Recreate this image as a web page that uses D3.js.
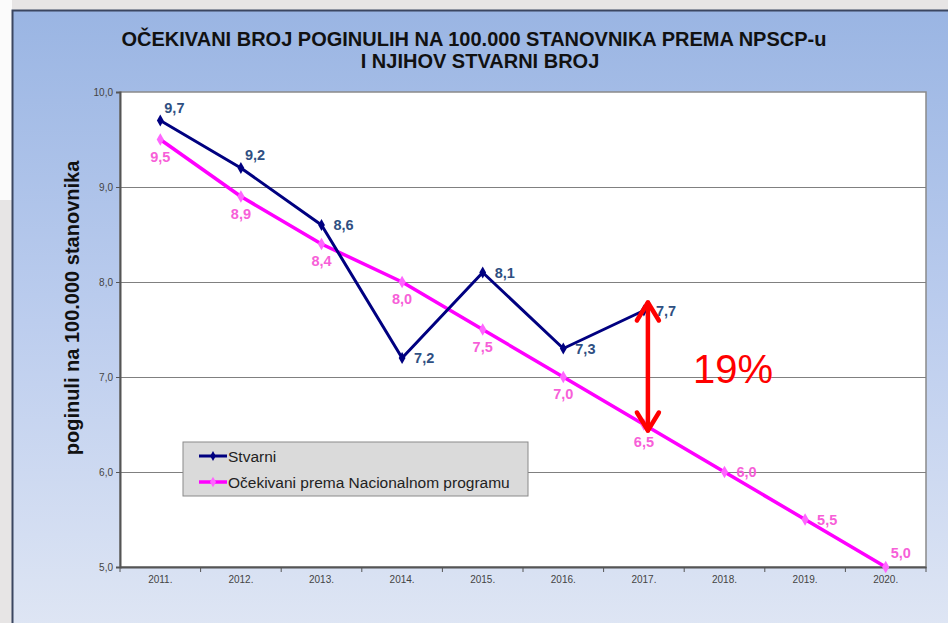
<!DOCTYPE html>
<html>
<head>
<meta charset="utf-8">
<script src="https://cdn.jsdelivr.net/npm/d3@7"></script>
<style>
  html, body { margin: 0; padding: 0; background: #e7e5e5; }
  svg { display: block; }
</style>
</head>
<body>
<svg id="chart" width="948" height="623"></svg>
<script>
// Expected vs actual road deaths per 100,000 inhabitants (NPSCP).

const years = ["2011.", "2012.", "2013.", "2014.", "2015.", "2016.", "2017.", "2018.", "2019.", "2020."];
const actual = [9.7, 9.2, 8.6, 7.2, 8.1, 7.3, 7.7];
const expected = [9.5, 8.9, 8.4, 8.0, 7.5, 7.0, 6.5, 6.0, 5.5, 5.0];
const actualLabelPos = ["above", "above", "right", "right", "right", "right", "right"];
const expectedLabelPos = ["below", "below", "below", "below", "below", "below", "below", "right", "right", "aboveRight"];
const yTicks = [5, 6, 7, 8, 9, 10];
const titleLines = ["OČEKIVANI BROJ POGINULIH NA 100.000 STANOVNIKA PREMA NPSCP-u", "I NJIHOV STVARNI BROJ"];
const yLabel = "poginuli na 100.000 stanovnika";
const seriesNames = ["Stvarni", "Očekivani prema Nacionalnom programu"];
const gapLabel = "19%";

const svg = d3.select("#chart");
const W = 948, H = 623;
const fmt = v => d3.format(".1f")(v).replace(".", ",");

// slide background + panel
const defs = svg.append("defs");
const grad = defs.append("linearGradient").attr("id", "panelGrad")
  .attr("x1", 0).attr("y1", 0).attr("x2", 0).attr("y2", 1);
grad.append("stop").attr("offset", "0%").attr("stop-color", "#9ab5e3");
grad.append("stop").attr("offset", "50%").attr("stop-color", "#bccdee");
grad.append("stop").attr("offset", "100%").attr("stop-color", "#dfe6f4");

svg.append("rect").attr("width", W).attr("height", H).attr("fill", "#e7e5e5");
svg.append("rect").attr("width", 12).attr("height", 200).attr("fill", "#fbfbfb");
svg.append("rect").attr("x", 12).attr("y", 10).attr("width", W).attr("height", H)
  .attr("fill", "url(#panelGrad)");
svg.append("path").attr("d", `M12.5,${H} V10.5 H${W}`)
  .attr("fill", "none").attr("stroke", "#3b4660").attr("stroke-width", 2);

// title
svg.append("text")
  .attr("x", 474).attr("y", 46)
  .attr("text-anchor", "middle")
  .attr("font-family", "Liberation Sans, Arial, sans-serif")
  .attr("font-weight", "bold").attr("font-size", 20).attr("fill", "#111")
  .selectAll("tspan").data(titleLines).join("tspan")
  .attr("x", (d, i) => i === 0 ? 474 : 480).attr("dy", (d, i) => i === 0 ? 0 : 22)
  .text(d => d);

// plot area
const plot = { left: 120, right: 926, top: 92, bottom: 567 };
const x = d3.scaleBand().domain(years).range([plot.left, plot.right]).padding(0);
const cx = d => x(d) + x.bandwidth() / 2;
const y = d3.scaleLinear().domain([5, 10]).range([plot.bottom, plot.top]);

svg.append("rect")
  .attr("x", plot.left).attr("y", plot.top)
  .attr("width", plot.right - plot.left).attr("height", plot.bottom - plot.top)
  .attr("fill", "#ffffff").attr("stroke", "#8a8a8a").attr("stroke-width", 1.5);

svg.append("g").selectAll("line").data(yTicks.filter(t => t > 5 && t < 10)).join("line")
  .attr("x1", plot.left).attr("x2", plot.right)
  .attr("y1", d => Math.round(y(d)) + 0.5).attr("y2", d => Math.round(y(d)) + 0.5)
  .attr("stroke", "#808080").attr("stroke-width", 1);

// axes
const yAxis = svg.append("g").attr("transform", `translate(${plot.left},0)`)
  .call(d3.axisLeft(y).tickValues(yTicks).tickSize(4).tickPadding(3).tickFormat(fmt));
const xAxis = svg.append("g").attr("transform", `translate(0,${plot.bottom})`)
  .call(d3.axisBottom(x).tickSize(0).tickPadding(9));
// ticks between categories
xAxis.selectAll(".between").data(d3.range(years.length + 1)).join("line")
  .attr("class", "between")
  .attr("x1", i => plot.left + i * x.bandwidth()).attr("x2", i => plot.left + i * x.bandwidth())
  .attr("y1", 0).attr("y2", 5)
  .attr("stroke", "#555");
[yAxis, xAxis].forEach(g => {
  g.selectAll(".domain").attr("stroke", "#555").attr("stroke-width", 2);
  g.selectAll(".tick line").attr("stroke", "#555");
  g.selectAll(".tick text").attr("fill", "#444").attr("font-size", 10)
    .attr("font-family", "Liberation Sans, Arial, sans-serif");
});

// y-axis title
svg.append("text")
  .attr("transform", `translate(79,308) rotate(-90)`)
  .attr("text-anchor", "middle")
  .attr("font-family", "Liberation Sans, Arial, sans-serif")
  .attr("font-weight", "bold").attr("font-size", 20).attr("fill", "#111")
  .text(yLabel);

// series
const series = [
  { name: seriesNames[1], values: expected, pos: expectedLabelPos, line: "#ff00ff", marker: "#ff66ff", label: "#f75fd8", width: 3.5, size: 45 },
  { name: seriesNames[0], values: actual, pos: actualLabelPos, line: "#000080", marker: "#000080", label: "#2f4f82", width: 3, size: 40 }
];

const line = d3.line().x((d, i) => cx(years[i])).y(d => y(d));

series.forEach(s => {
  svg.append("path").datum(s.values)
    .attr("fill", "none").attr("stroke", s.line).attr("stroke-width", s.width)
    .attr("stroke-linejoin", "round").attr("d", line);

  svg.append("g").selectAll("path").data(s.values).join("path")
    .attr("transform", (d, i) => `translate(${cx(years[i])},${y(d)})`)
    .attr("d", d3.symbol(d3.symbolDiamond, s.size))
    .attr("fill", s.marker);

  svg.append("g").selectAll("text").data(s.values).join("text")
    .attr("x", (d, i) => {
      const p = s.pos[i], px = cx(years[i]);
      if (p === "right") return px + 12;
      if (p === "aboveRight") return px + 5;
      if (p === "above") return px + 4;
      return px;
    })
    .attr("y", (d, i) => {
      const p = s.pos[i], py = y(d);
      if (p === "below") return py + 22;
      if (p === "above") return py - 8;
      if (p === "aboveRight") return py - 9;
      return py + 5;
    })
    .attr("text-anchor", (d, i) => s.pos[i] === "below" ? "middle" : "start")
    .attr("font-family", "Liberation Sans, Arial, sans-serif")
    .attr("font-weight", "bold").attr("font-size", 14.5)
    .attr("fill", s.label)
    .text(d => fmt(d));
});

// gap annotation at 2017
const i17 = years.indexOf("2017.");
const ax = cx(years[i17]) + 4;
const aTop = y(actual[i17]) - 10, aBot = y(expected[i17]) + 8;
const ann = svg.append("g").attr("stroke", "#ff0000").attr("stroke-width", 4.5)
  .attr("fill", "none").attr("stroke-linecap", "round").attr("stroke-linejoin", "round");
ann.append("line").attr("x1", ax).attr("x2", ax).attr("y1", aTop + 2).attr("y2", aBot - 2);
ann.append("path").attr("d", `M${ax - 11},${aTop + 20} L${ax},${aTop + 2} L${ax + 11},${aTop + 20}`);
ann.append("path").attr("d", `M${ax - 11},${aBot - 20} L${ax},${aBot - 2} L${ax + 11},${aBot - 20}`);
svg.append("text")
  .attr("x", 693).attr("y", 383)
  .attr("font-family", "Liberation Sans, Arial, sans-serif")
  .attr("font-size", 40).attr("fill", "#ff0000")
  .text(gapLabel);

// legend
const legend = svg.append("g").attr("transform", "translate(183,442)");
legend.append("rect").attr("width", 345).attr("height", 54)
  .attr("fill", "#dadada").attr("stroke", "#8a8a8a").attr("stroke-width", 1);
const legendItems = [series[1], series[0]];
legendItems.forEach((s, i) => {
  const g = legend.append("g").attr("transform", `translate(16,${14 + i * 26})`);
  g.append("line").attr("x1", 0).attr("x2", 28).attr("stroke", s.line).attr("stroke-width", s.width);
  g.append("path").attr("transform", "translate(14,0)")
    .attr("d", d3.symbol(d3.symbolDiamond, s.size * 0.7)).attr("fill", s.marker);
  g.append("text").attr("x", 29).attr("y", 5.5)
    .attr("font-family", "Liberation Sans, Arial, sans-serif")
    .attr("font-size", 15.5).attr("fill", "#222")
    .text(s.name);
});
</script>
</body>
</html>
